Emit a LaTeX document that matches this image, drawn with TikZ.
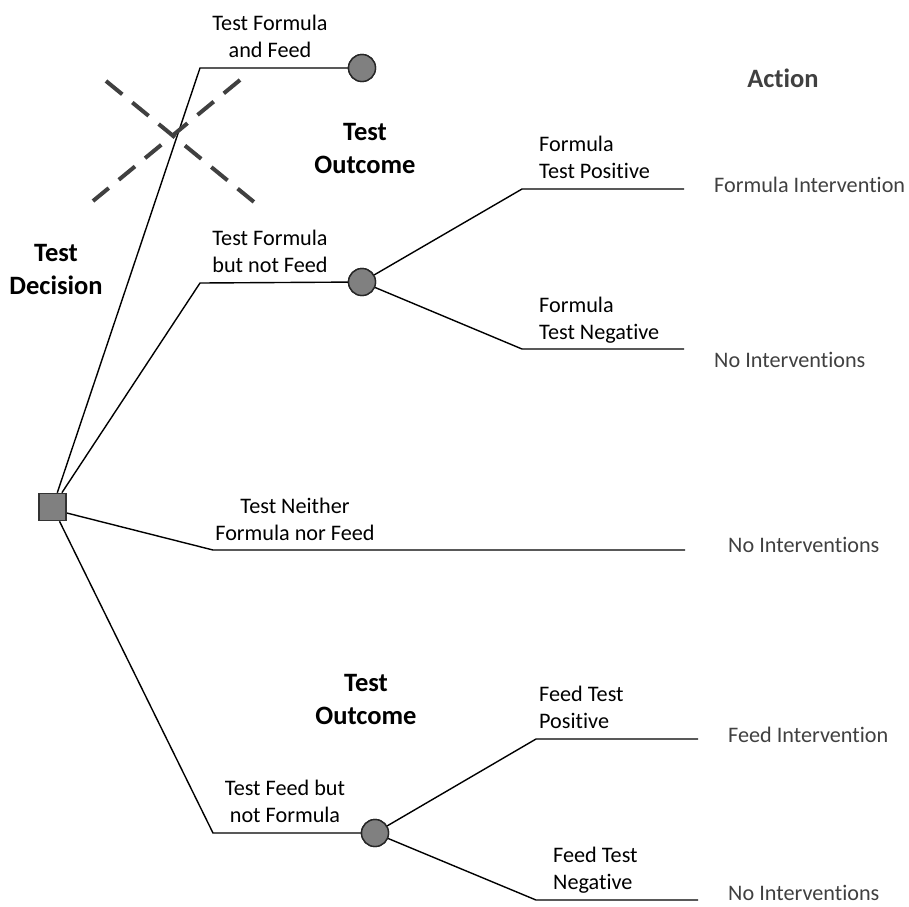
\documentclass[tikz,border=0pt]{standalone}
\usepackage{fontspec}
\setmainfont[Ligatures=NoCommon]{Carlito}
\begin{document}
\begin{tikzpicture}[x=1pt,y=-1pt,
  branch/.style={draw=black,line width=1.4pt},
  decision/.style={draw=black!80,fill=black!50,line width=1.6pt,minimum size=27pt,inner sep=0pt},
  chance/.style={circle,draw=black!85,fill=black!50,line width=1.4pt,minimum size=27pt,inner sep=0pt},
  lbl/.style={inner sep=0pt,anchor=base,align=center,font=\fontsize{22.2}{27}\selectfont},
  lbll/.style={inner sep=0pt,anchor=base west,align=left,font=\fontsize{22.2}{26.5}\selectfont},
  head/.style={inner sep=0pt,anchor=base,align=center,font=\fontsize{26.5}{32.5}\selectfont\bfseries},
  act/.style={inner sep=0pt,anchor=base west,text=black!75,font=\fontsize{22.2}{27}\selectfont},
  cross/.style={draw=black!75,line width=4pt,dash pattern=on 21pt off 13pt}
]
\useasboundingbox (0,0) rectangle (909,906);

% decision and chance nodes
\node[decision] (root) at (52.5,507) {};
\node[chance] (c1) at (362,68) {};
\node[chance] (c2) at (362,282) {};
\node[chance] (c3) at (375,833) {};

% bend points
\coordinate (k1) at (200,68);
\coordinate (k2) at (200,283);
\coordinate (k3) at (213,550);
\coordinate (k4) at (213,833);
\coordinate (e3) at (685,550);
\coordinate (p1) at (522,189);
\coordinate (q1) at (684,189);
\coordinate (p2) at (522,349);
\coordinate (q2) at (684,349);
\coordinate (p3) at (536,739);
\coordinate (q3) at (698,739);
\coordinate (p4) at (536,900);
\coordinate (q4) at (698,900);

% branches
\draw[branch] (root) -- (k1) -- (c1);
\draw[branch] (root) -- (k2) -- (c2);
\draw[branch] (root.east |- 0,513) -- (k3) -- (e3);
\draw[branch] (root) -- (k4) -- (c3);
\draw[branch] (c2) -- (p1) -- (q1);
\draw[branch] (c2) -- (p2) -- (q2);
\draw[branch] (c3) -- (p3) -- (q3);
\draw[branch] (c3) -- (p4) -- (q4);

% redraw the nodes on top of the branch ends
\node[decision] at (root) {};
\node[chance] at (c1) {};
\node[chance] at (c2) {};
\node[chance] at (c3) {};

% crossed-out branch
\coordinate (xa) at (106,81);
\coordinate (xb) at (254,202);
\coordinate (xc) at (240,80);
\coordinate (xd) at (93,201);
\draw[cross] (xa) -- (xb);
\draw[cross] (xc) -- (xd);

% branch labels (anchored at the baseline of their last line)
\node[lbl] (l1) at (270,57) {Test Formula\\and Feed};
\node[lbl] (l2) at (270,272) {Test Formula\\but not Feed};
\node[lbl] (l3) at (295,540) {Test Neither\\Formula nor Feed};
\node[lbl] (l4) at (285,822) {Test Feed but\\not Formula};

% headings
\node[head] (hd) at (56,294) {Test\\Decision};
\node[head] (ho1) at (365,173) {Test\\Outcome};
\node[head] (ho2) at (366,724) {Test\\Outcome};
\node[head,text=black!75] (ha) at (783,87) {Action};

% outcome labels
\node[lbll] (o1) at (539,178) {Formula\\Test Positive};
\node[lbll] (o2) at (539,339) {Formula\\Test Negative};
\node[lbll] (o3) at (539,728) {Feed Test\\Positive};
\node[lbll] (o4) at (553,889) {Feed Test\\Negative};

% actions
\node[act] (a1) at (714,192) {Formula Intervention};
\node[act] (a2) at (714,367) {No Interventions};
\node[act] (a3) at (728,552) {No Interventions};
\node[act] (a4) at (728,742) {Feed Intervention};
\node[act] (a5) at (728,900.5) {No Interventions};
\end{tikzpicture}
\end{document}
